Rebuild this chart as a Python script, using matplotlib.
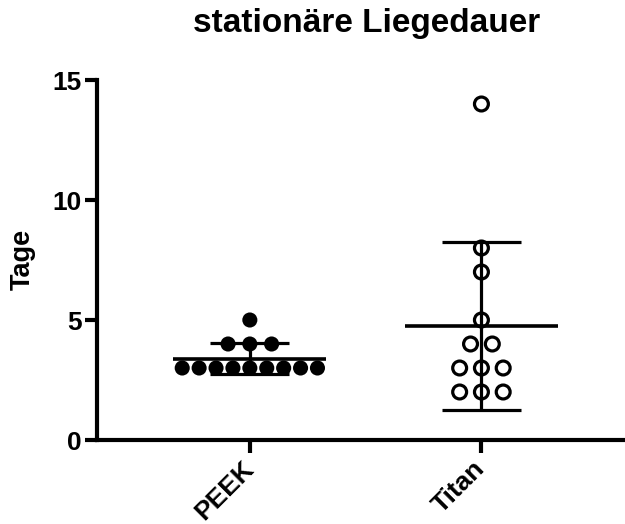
import numpy as np
import matplotlib
matplotlib.use("Agg")
import matplotlib.pyplot as plt

plt.rcParams['font.family'] = ['Liberation Sans', 'DejaVu Sans']
plt.rcParams['font.weight'] = 'bold'

# Data
categories = ["PEEK", "Titan"]
peek_values = [3, 3, 3, 3, 3, 3, 3, 3, 3, 4, 4, 4, 5]
titan_values = [14, 8, 7, 5, 4, 4, 3, 3, 3, 2, 2, 2]
series = [peek_values, titan_values]
yticks = [0, 5, 10, 15]

title = "stationäre Liegedauer"
ylabel = "Tage"

W, H = 625, 524
fig = plt.figure(figsize=(W / 100, H / 100), dpi=100)
ax = fig.add_axes([97 / W, 1 - 440 / H, (W - 97) / W, 360 / H])

lw_spine = 3.0
lw_err = 2.3


def swarm_offsets(vals):
    vals = np.asarray(vals, dtype=float)
    offs = np.zeros(len(vals))
    for v in np.unique(vals):
        idx = np.where(vals == v)[0]
        n = len(idx)
        step = 0.073 if n > 3 else 0.094
        offs[idx] = (np.arange(n) - (n - 1) / 2) * step
    return offs


for i, vals in enumerate(series):
    vals = np.asarray(vals, dtype=float)
    m = vals.mean()
    sd = vals.std(ddof=1)
    # mean line
    ax.plot([i - 0.33, i + 0.33], [m, m], color='black', lw=lw_err + 0.3,
            solid_capstyle='butt', zorder=3)
    # SD bar
    ax.plot([i, i], [m - sd, m + sd], color='black', lw=lw_err,
            solid_capstyle='butt', zorder=3)
    for yy in (m - sd, m + sd):
        ax.plot([i - 0.17, i + 0.17], [yy, yy], color='black', lw=lw_err,
                solid_capstyle='butt', zorder=3)
    xs = i + swarm_offsets(vals)
    if i == 0:
        ax.scatter(xs, vals, s=118, color='black', edgecolors='none',
                   zorder=4, clip_on=False)
    else:
        ax.scatter(xs, vals, s=100, facecolors='none', edgecolors='black',
                   linewidths=2.3, zorder=4, clip_on=False)

ax.set_xlim(-0.66, 1.62)
ax.set_ylim(0, 15)
ax.set_yticks(yticks)
ax.set_xticks(range(len(categories)))
ax.set_xticklabels(categories, rotation=45, ha='right',
                   rotation_mode='anchor', va='center')

for s in ('top', 'right'):
    ax.spines[s].set_visible(False)
for s in ('left', 'bottom'):
    ax.spines[s].set_linewidth(lw_spine)
ax.tick_params(axis='both', width=lw_spine, length=9, labelsize=19)
ax.tick_params(axis='x', pad=9)
ax.tick_params(axis='y', pad=2)
for lab in ax.get_xticklabels() + ax.get_yticklabels():
    lab.set_fontweight('bold')

fig.text(367 / W, 1 - 32 / H, title, ha='center', va='baseline',
         fontsize=24, fontweight='bold')
fig.text(23 / W, 1 - 259 / H, ylabel, ha='center', va='center',
         rotation=90, fontsize=19.5, fontweight='bold')

fig.savefig("out.png", dpi=100)
